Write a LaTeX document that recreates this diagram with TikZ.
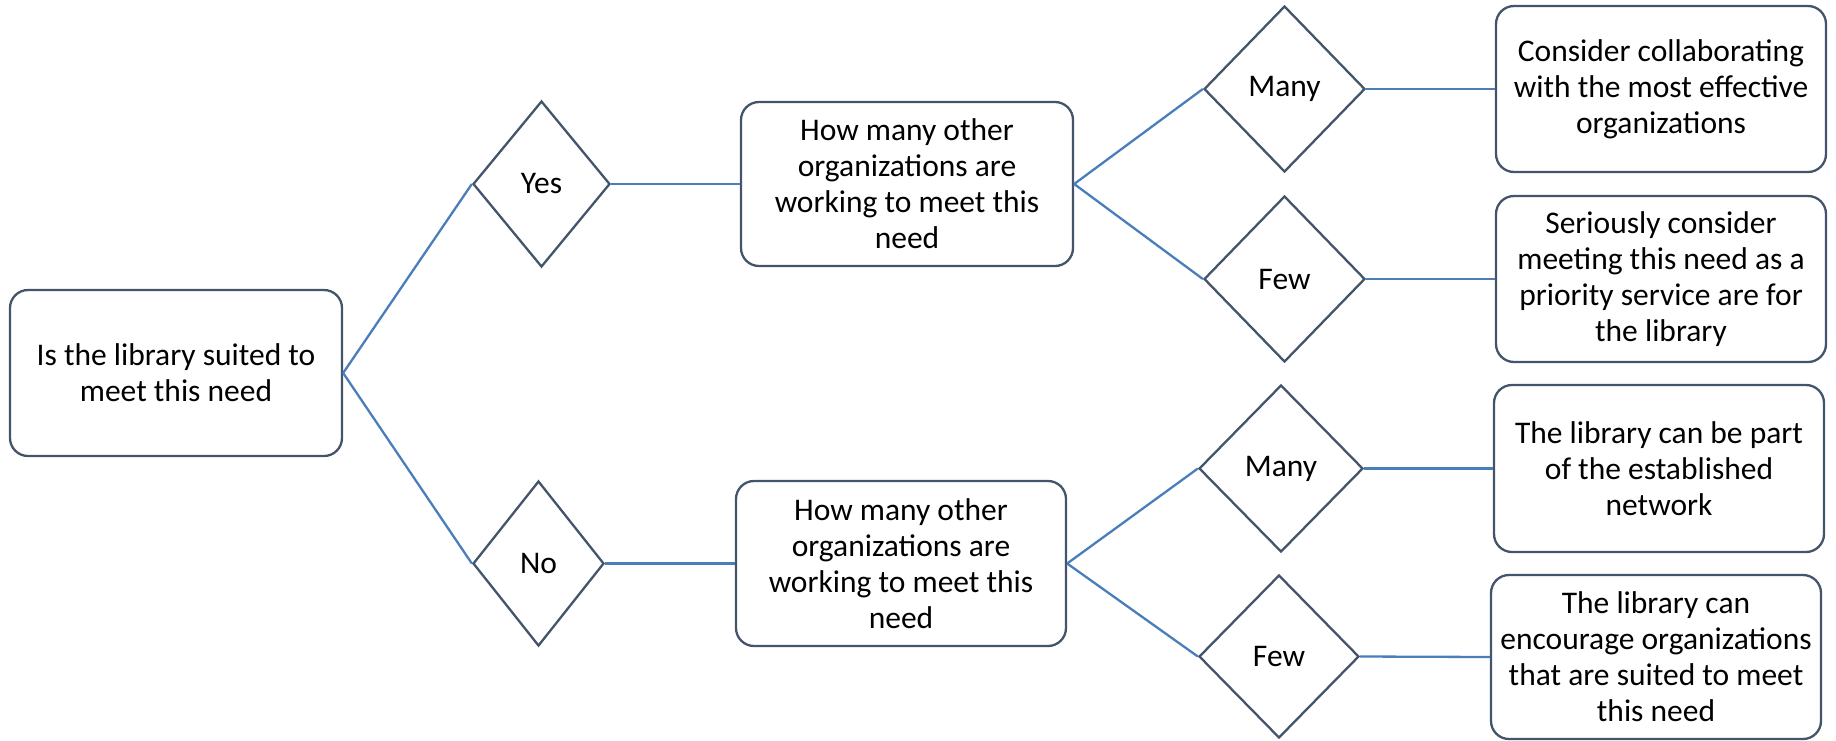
\documentclass[tikz,border=0pt]{standalone}
\usepackage{fontspec}
\setmainfont{Carlito}
\usetikzlibrary{shapes.geometric}
\definecolor{edgeC}{HTML}{44546A}
\definecolor{linkC}{HTML}{4A7EBB}
\tikzset{
  box/.style={draw=edgeC, line width=2.3pt, rounded corners=18pt, fill=white,
    inner sep=0pt, align=center, font=\fontsize{31.5}{36}\selectfont},
  choice/.style={draw=edgeC, line width=2.3pt, shape=diamond, fill=white,
    inner sep=0pt, font=\fontsize{31.5}{36}\selectfont},
  link/.style={draw=linkC, line width=2.3pt}
}
\begin{document}
\begin{tikzpicture}[x=1pt, y=-1pt]
\useasboundingbox (0,0) rectangle (1836,740);
\node[box, minimum width=332pt, minimum height=166pt] (root) at (176,373) {Is the library suited to\\meet this need};
\node[choice, minimum width=137pt, minimum height=166pt] (yes) at (541.5,184) {Yes};
\node[choice, minimum width=131pt, minimum height=165pt] (no) at (538.5,563.5) {No};
\node[box, minimum width=332pt, minimum height=164pt] (q1) at (907,184) {How many other\\organizations are\\working to meet this\\need};
\node[box, minimum width=330pt, minimum height=165pt] (q2) at (901,563.5) {How many other\\organizations are\\working to meet this\\need};
\node[choice, minimum width=161pt, minimum height=166pt] (many1) at (1284.5,89) {Many};
\node[choice, minimum width=161pt, minimum height=166pt] (few1) at (1284.5,279) {Few};
\node[choice, minimum width=164pt, minimum height=167pt] (many2) at (1281,468.5) {Many};
\node[choice, minimum width=160pt, minimum height=163pt] (few2) at (1279,656.5) {Few};
\node[box, minimum width=330pt, minimum height=166pt] (r1) at (1661,89) {Consider collaborating\\with the most effective\\organizations};
\node[box, minimum width=330pt, minimum height=166pt] (r2) at (1661,279) {Seriously consider\\meeting this need as a\\priority service are for\\the library};
\node[box, minimum width=330pt, minimum height=167pt] (r3) at (1659,468.5) {The library can be part\\of the established\\network};
\node[box, minimum width=330pt, minimum height=164pt] (r4) at (1656,657) {The library can\\encourage organizations\\that are suited to meet\\this need};
\path[link] (root.east) -- (yes.west);
\path[link] (root.east) -- (no.west);
\path[link] (yes.east) -- (q1.west);
\path[link] (no.east) -- (q2.west);
\path[link] (q1.east) -- (many1.west);
\path[link] (q1.east) -- (few1.west);
\path[link] (q2.east) -- (many2.west);
\path[link] (q2.east) -- (few2.west);
\path[link] (many1.east) -- (r1.west);
\path[link] (few1.east) -- (r2.west);
\path[link] (many2.east) -- (r3.west);
\path[link] (few2.east) -- (r4.west);
\end{tikzpicture}
\end{document}
